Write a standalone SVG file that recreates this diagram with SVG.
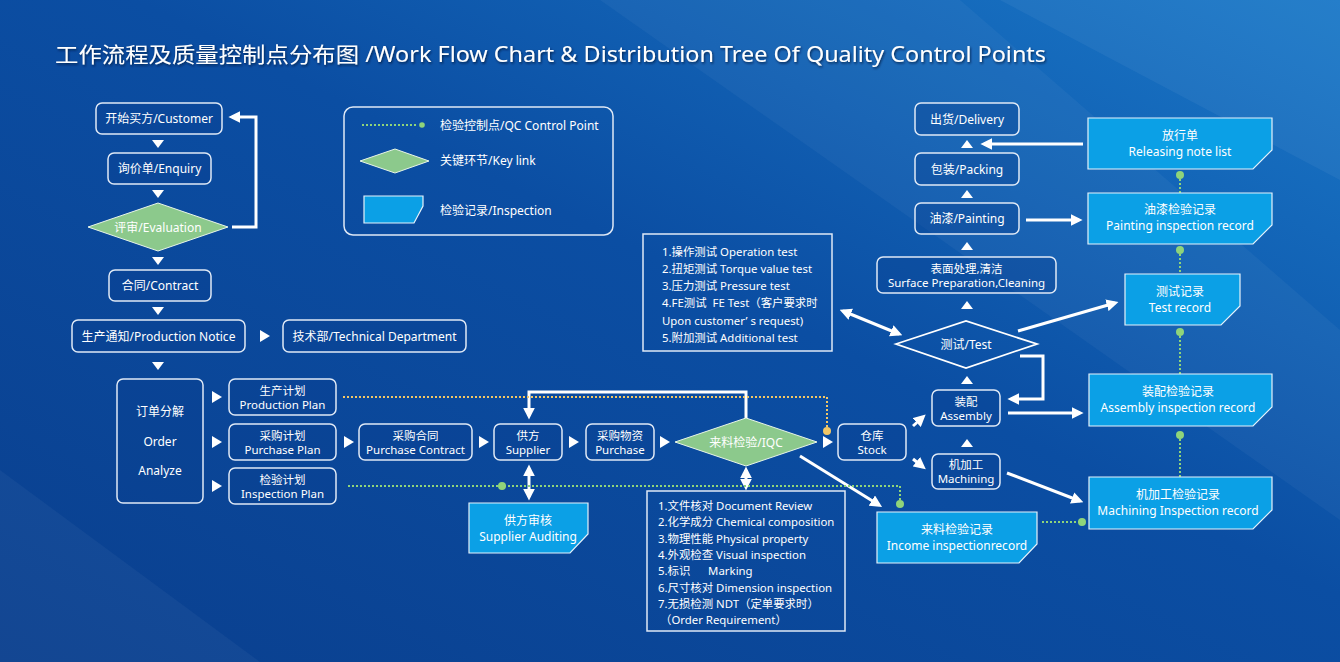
<svg xmlns="http://www.w3.org/2000/svg" width="1340" height="662" viewBox="0 0 1340 662">
<defs>
<linearGradient id="bg" x1="0" y1="1" x2="1" y2="0">
<stop offset="0" stop-color="#0a3f8e"/>
<stop offset="0.55" stop-color="#0b4ea3"/>
<stop offset="1" stop-color="#1a78c8"/>
</linearGradient>
<marker id="ah" viewBox="0 0 10 10" refX="7" refY="5" markerWidth="4" markerHeight="4" orient="auto-start-reverse" markerUnits="strokeWidth">
<path d="M0 0 L10 5 L0 10 z" fill="#fff"/>
</marker>
<filter id="sh" x="-5%" y="-30%" width="110%" height="160%"><feDropShadow dx="1" dy="1.5" stdDeviation="1" flood-color="#001a40" flood-opacity="0.8"/></filter>
</defs>
<style>
.t{font-family:"Noto Sans","Noto Sans CJK SC",sans-serif;font-size:12px;fill:#fff;text-anchor:middle;dominant-baseline:central}
.m{font-size:11.5px}
.l{text-anchor:start;white-space:pre;font-size:11.4px}
.n{fill:#0a3f8e;fill-opacity:0.35;stroke:#dfe9f6;stroke-width:1.5}
.b{fill:none;stroke:#dfe9f6;stroke-width:1.5}
.r{fill:#0ba0e6;stroke:#e6f2fb;stroke-width:1.2}
.k{fill:#8cc98c;stroke:#e8f5e8;stroke-width:1}
.a{stroke:#fff;stroke-width:3;fill:none}
.tri{fill:#fff}
.go{stroke:#f2c766;stroke-width:2;stroke-dasharray:2 2;fill:none}
.gg{stroke:#8fd47a;stroke-width:2;stroke-dasharray:2 2;fill:none}
.dg{fill:#8fd47a}
.do{fill:#f2c766}
</style>
<rect width="1340" height="662" fill="url(#bg)"/>
<polygon points="600,0 960,0 1340,330 1340,520" fill="#ffffff" fill-opacity="0.04"/>
<polygon points="0,470 0,662 260,662" fill="#ffffff" fill-opacity="0.04"/>
<polygon points="1000,0 1340,0 1340,180" fill="#ffffff" fill-opacity="0.05"/>

<text x="55" y="62" font-family="'Noto Sans','Noto Sans CJK SC',sans-serif" font-size="21" fill="#fff" filter="url(#sh)" textLength="991" lengthAdjust="spacingAndGlyphs">工作流程及质量控制点分布图 /Work Flow Chart &amp; Distribution Tree Of Quality Control Points</text>

<g id="legend">
<rect x="344" y="107" width="269" height="128" rx="9" class="b"/>
<line x1="362" y1="125" x2="418" y2="125" class="gg"/>
<circle cx="422" cy="125" r="2.8" class="dg"/>
<text x="440" y="125" class="t" text-anchor="start" style="text-anchor:start">检验控制点/QC Control Point</text>
<polygon points="360,161 395,149 429,161 395,173" class="k"/>
<text x="440" y="160" class="t" style="text-anchor:start">关键环节/Key link</text>
<path d="M364 196 H423 V206 L414 223 H364 Z" class="r"/>
<text x="440" y="210" class="t" style="text-anchor:start">检验记录/Inspection</text>
</g>

<g id="connectors">
<polygon points="152,140 164,140 158,148" class="tri"/>
<polygon points="152,190 164,190 158,198" class="tri"/>
<polygon points="152,257 164,257 158,265" class="tri"/>
<polygon points="152,307 164,307 158,315" class="tri"/>
<polygon points="152,362 164,362 158,370" class="tri"/>
<polygon points="260,330 270,336 260,342" class="tri"/>
<polygon points="212,391 222,397 212,403" class="tri"/>
<polygon points="212,436 222,442 212,448" class="tri"/>
<polygon points="212,480 222,486 212,492" class="tri"/>
<polygon points="344,436 354,442 344,448" class="tri"/>
<polygon points="479,436 489,442 479,448" class="tri"/>
<polygon points="569,436 579,442 569,448" class="tri"/>
<polygon points="660,436 670,442 660,448" class="tri"/>
<polygon points="823,436 833,442 823,448" class="tri"/>
<polygon points="961,148 973,148 967,140" class="tri"/>
<polygon points="961,198 973,198 967,190" class="tri"/>
<polygon points="961,250 973,250 967,242" class="tri"/>
<polygon points="961,309 973,309 967,301" class="tri"/>
<polygon points="961,384 973,384 967,376" class="tri"/>
<polygon points="961,447 973,447 967,439" class="tri"/>
<path d="M232 227 H256 V117 H232" class="a" marker-end="url(#ah)"/>
<path d="M746 418 V392 H529 V416" class="a" marker-end="url(#ah)"/>
<path d="M529 468 V497" class="a" marker-start="url(#ah)" marker-end="url(#ah)"/>
<path d="M746 470 V487" class="a" marker-start="url(#ah)" marker-end="url(#ah)"/>
<path d="M800 456 L879 505" class="a" marker-end="url(#ah)"/>
<path d="M913 426 L923 417" class="a" stroke-width="2.5" marker-end="url(#ah)"/>
<path d="M913 459 L923 467" class="a" stroke-width="2.5" marker-end="url(#ah)"/>
<path d="M1020 356 H1043 V399 H1011" class="a" marker-end="url(#ah)"/>
<path d="M1008 413 H1080" class="a" marker-end="url(#ah)"/>
<path d="M1007 473 L1080 501" class="a" marker-end="url(#ah)"/>
<path d="M1018 331 L1115 303" class="a" marker-end="url(#ah)"/>
<path d="M843 311 L899 334" class="a" marker-start="url(#ah)" marker-end="url(#ah)"/>
<path d="M1026 220 H1079" class="a" marker-end="url(#ah)"/>
<path d="M1083 144 H984" class="a" marker-end="url(#ah)"/>
<path d="M343 397 H827 V428" class="go"/>
<circle cx="827" cy="431" r="4" class="do"/>
<path d="M348 486 H900 V501" class="gg"/>
<circle cx="502" cy="486" r="4" class="dg"/>
<circle cx="900" cy="504" r="4" class="dg"/>
<path d="M1042 522 H1079" class="gg"/>
<circle cx="1082" cy="522" r="4" class="dg"/>
<path d="M1180 179 V193" class="gg"/>
<circle cx="1180" cy="175" r="4" class="dg"/>
<path d="M1180 254 V274" class="gg"/>
<circle cx="1180" cy="250" r="4" class="dg"/>
<path d="M1180 336 V374" class="gg"/>
<circle cx="1180" cy="332" r="4" class="dg"/>
<path d="M1180 439 V477" class="gg"/>
<circle cx="1180" cy="435" r="4" class="dg"/>
</g>

<g id="customer"><rect x="96" y="103" width="126" height="31" rx="6" class="n"/><text x="159" y="118" class="t">开始买方/Customer</text></g>
<g id="enquiry"><rect x="108" y="153" width="103" height="31" rx="6" class="n"/><text x="159.5" y="168" class="t">询价单/Enquiry</text></g>
<g id="evaluation"><polygon points="88,227 158,203 228,227 158,251" class="k"/><text x="158" y="227" class="t">评审/Evaluation</text></g>
<g id="contract"><rect x="109" y="270" width="102" height="31" rx="6" class="n"/><text x="160" y="285" class="t">合同/Contract</text></g>
<g id="production-notice"><rect x="72" y="320" width="173" height="32" rx="6" class="n"/><text x="158.5" y="336" class="t">生产通知/Production Notice</text></g>
<g id="technical"><rect x="283" y="320" width="183" height="32" rx="6" class="n"/><text x="374.5" y="336" class="t">技术部/Technical Department</text></g>
<g id="order-analyze"><rect x="117" y="379" width="86" height="124" rx="6" class="n"/><text x="160" y="411" class="t">订单分解</text><text x="160" y="441" class="t">Order</text><text x="160" y="470" class="t">Analyze</text></g>
<g id="production-plan"><rect x="229" y="379" width="107" height="36" rx="6" class="n"/><text x="282.5" y="390" class="t m">生产计划</text><text x="282.5" y="404" class="t m">Production Plan</text></g>
<g id="purchase-plan"><rect x="229" y="424" width="107" height="36" rx="6" class="n"/><text x="282.5" y="435" class="t m">采购计划</text><text x="282.5" y="449" class="t m">Purchase Plan</text></g>
<g id="inspection-plan"><rect x="229" y="468" width="107" height="36" rx="6" class="n"/><text x="282.5" y="479" class="t m">检验计划</text><text x="282.5" y="493" class="t m">Inspection Plan</text></g>
<g id="purchase-contract"><rect x="359" y="424" width="113" height="36" rx="6" class="n"/><text x="415.5" y="435" class="t m">采购合同</text><text x="415.5" y="449" class="t m">Purchase Contract</text></g>
<g id="supplier"><rect x="494" y="424" width="68" height="36" rx="6" class="n"/><text x="528" y="435" class="t m">供方</text><text x="528" y="449" class="t m">Supplier</text></g>
<g id="purchase"><rect x="586" y="424" width="68" height="36" rx="6" class="n"/><text x="620" y="435" class="t m">采购物资</text><text x="620" y="449" class="t m">Purchase</text></g>
<g id="iqc"><polygon points="675,442 746,418 817,442 746,466" class="k"/><text x="746" y="442" class="t">来料检验/IQC</text></g>
<g id="stock"><rect x="838" y="424" width="68" height="36" rx="6" class="n"/><text x="872" y="435" class="t m">仓库</text><text x="872" y="449" class="t m">Stock</text></g>
<g id="supplier-auditing"><path d="M469 503 H588 V534 L570 553 H469 Z" class="r"/><text x="528" y="520" class="t">供方审核</text><text x="528" y="536" class="t">Supplier Auditing</text></g>
<g id="iqc-list"><rect x="647" y="491" width="198" height="140" class="b"/>
<text x="658" y="505" class="t l">1.文件核对 Document Review</text>
<text x="658" y="521.5" class="t l">2.化学成分 Chemical composition</text>
<text x="658" y="538" class="t l">3.物理性能 Physical property</text>
<text x="658" y="554" class="t l">4.外观检查 Visual inspection</text>
<text x="658" y="570.5" class="t l">5.标识      Marking</text>
<text x="658" y="587" class="t l">6.尺寸核对 Dimension inspection</text>
<text x="658" y="603" class="t l">7.无损检测 NDT（定单要求时）</text>
<text x="660" y="619.5" class="t l">（Order Requirement）</text>
</g>
<g id="income-record"><path d="M877 512 H1037 V544 L1019 563 H877 Z" class="r"/><text x="957" y="529" class="t">来料检验记录</text><text x="957" y="545.5" class="t">Income inspectionrecord</text></g>
<g id="assembly"><rect x="932" y="390" width="68" height="36" rx="6" class="n"/><text x="966" y="401" class="t m">装配</text><text x="966" y="415" class="t m">Assembly</text></g>
<g id="machining"><rect x="932" y="454" width="68" height="35" rx="6" class="n"/><text x="966" y="464.5" class="t m">机加工</text><text x="966" y="478.5" class="t m">Machining</text></g>
<g id="test"><polygon points="896,344 966,321 1037,344 966,368" fill="none" stroke="#fff" stroke-width="1.8"/><text x="966" y="344" class="t">测试/Test</text></g>
<g id="test-list"><rect x="643" y="234" width="189" height="117" class="b"/>
<text x="662" y="251" class="t l">1.操作测试 Operation test</text>
<text x="662" y="268" class="t l">2.扭矩测试 Torque value test</text>
<text x="662" y="285.5" class="t l">3.压力测试 Pressure test</text>
<text x="662" y="302.5" class="t l">4.FE测试  FE Test（客户要求时</text>
<text x="662" y="320" class="t l">Upon customer’ s request)</text>
<text x="662" y="337" class="t l">5.附加测试 Additional test</text>
</g>
<g id="surface"><rect x="877" y="257" width="179" height="36" rx="6" class="n"/><text x="966.5" y="268" class="t m">表面处理,清洁</text><text x="966.5" y="282.5" class="t m">Surface Preparation,Cleaning</text></g>
<g id="painting"><rect x="915" y="203" width="104" height="31" rx="6" class="n"/><text x="967" y="218.5" class="t">油漆/Painting</text></g>
<g id="packing"><rect x="915" y="153" width="104" height="32" rx="6" class="n"/><text x="967" y="169" class="t">包装/Packing</text></g>
<g id="delivery"><rect x="915" y="103" width="104" height="32" rx="6" class="n"/><text x="967" y="119" class="t">出货/Delivery</text></g>
<g id="releasing"><path d="M1088 118 H1272 V150 L1253 169 H1088 Z" class="r"/><text x="1180" y="135" class="t">放行单</text><text x="1180" y="151" class="t">Releasing note list</text></g>
<g id="painting-record"><path d="M1088 193 H1272 V225 L1253 244 H1088 Z" class="r"/><text x="1180" y="209" class="t">油漆检验记录</text><text x="1180" y="225" class="t">Painting inspection record</text></g>
<g id="test-record"><path d="M1125 274 H1240 V306 L1221 325 H1125 Z" class="r"/><text x="1180" y="291" class="t">测试记录</text><text x="1180" y="307" class="t">Test record</text></g>
<g id="assembly-record"><path d="M1089 374 H1272 V407 L1253 426 H1089 Z" class="r"/><text x="1178" y="391" class="t">装配检验记录</text><text x="1178" y="407" class="t">Assembly inspection record</text></g>
<g id="machining-record"><path d="M1089 477 H1272 V510 L1253 529 H1089 Z" class="r"/><text x="1178" y="494" class="t">机加工检验记录</text><text x="1178" y="510" class="t">Machining Inspection record</text></g>
</svg>
